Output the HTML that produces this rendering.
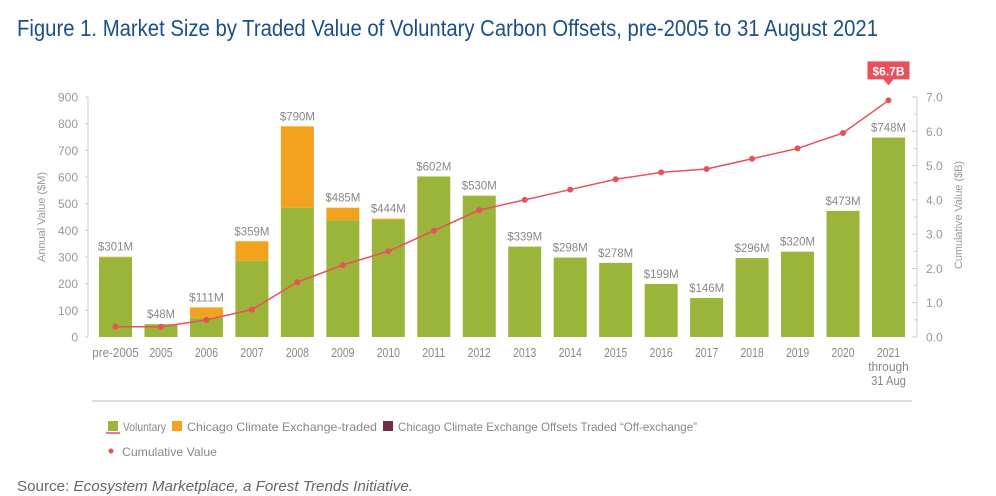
<!DOCTYPE html>
<html><head><meta charset="utf-8"><style>
body{margin:0;background:#fff;width:996px;height:496px;overflow:hidden}
svg{display:block;font-family:"Liberation Sans",sans-serif}
</style></head><body>
<svg id="c" width="996" height="496" viewBox="0 0 996 496">
<text x="17" y="36" font-size="23" fill="#1b4f8c" textLength="861" lengthAdjust="spacingAndGlyphs">Figure 1. Market Size by Traded Value of Voluntary Carbon Offsets, pre-2005 to 31 August 2021</text>
<g id="axes"></g><g id="bars"></g><g id="line"></g>
<line x1="92" y1="401" x2="912" y2="401" stroke="#ddd" stroke-width="2"/>
<g font-size="12" fill="#888">
<g><rect x="108" y="421" width="10" height="10" fill="#9bb43a"/><line x1="106" y1="433" x2="120" y2="433" stroke="#e8505b" stroke-width="1.5"/><text x="123" y="431" textLength="43" lengthAdjust="spacingAndGlyphs">Voluntary</text></g>
<g><rect x="172" y="421" width="10" height="10" fill="#f3a21f"/><text x="187" y="431" textLength="190" lengthAdjust="spacingAndGlyphs">Chicago Climate Exchange-traded</text></g>
<g><rect x="383" y="421" width="10" height="10" fill="#6e2e45"/><text x="398" y="431" textLength="299" lengthAdjust="spacingAndGlyphs">Chicago Climate Exchange Offsets Traded “Off-exchange”</text></g>
<g><circle cx="111" cy="451" r="2.5" fill="#e8505b"/><text x="122" y="456" textLength="95" lengthAdjust="spacingAndGlyphs">Cumulative Value</text></g>
</g>
<text x="17" y="491" font-size="15" fill="#666" textLength="396" lengthAdjust="spacingAndGlyphs">Source: <tspan font-style="italic">Ecosystem Marketplace, a Forest Trends Initiative.</tspan></text>
</svg>
<script>
const categories=["pre-2005","2005","2006","2007","2008","2009","2010","2011","2012","2013","2014","2015","2016","2017","2018","2019","2020","2021"];
const voluntary=[299,48,72,286,485,438,439,602,530,339,298,278,199,146,296,320,473,748];
const ccxTraded=[2,0,39,73,305,47,5,0,0,0,0,0,0,0,0,0,0,0];
const totalLabels=["$301M","$48M","$111M","$359M","$790M","$485M","$444M","$602M","$530M","$339M","$298M","$278M","$199M","$146M","$296M","$320M","$473M","$748M"];
const cumulative=[0.3,0.3,0.5,0.8,1.6,2.1,2.5,3.1,3.7,4.0,4.3,4.6,4.8,4.9,5.2,5.5,5.95,6.9];
const leftTicks=[0,100,200,300,400,500,600,700,800,900];
const rightTicks=[0,1,2,3,4,5,6,7];
const NS="http://www.w3.org/2000/svg";
const y0=337,yTop=97;
const yL=v=>y0-(v/900)*(y0-yTop);
const yR=v=>y0-(v/7)*(y0-yTop);
const xC=i=>115.5+i*45.47;
function mk(p,t,a,txt){const e=document.createElementNS(NS,t);for(const k in a)e.setAttribute(k,a[k]);if(txt!=null)e.textContent=txt;p.appendChild(e);return e;}
const ax=document.getElementById('axes'),bg=document.getElementById('bars'),lg=document.getElementById('line');
let e;
e=mk(ax,'line',{x1:88,y1:yTop,x2:88,y2:y0,stroke:'#ccc'});


e=mk(ax,'line',{x1:917,y1:yTop,x2:917,y2:y0,stroke:'#ccc'});


leftTicks.forEach(v=>{
 e=mk(ax,'text',{x:78,y:yL(v)+4.5,'font-size':12,fill:'#999','text-anchor':'end'},String(v));
 
 
 mk(ax,'line',{x1:85,y1:yL(v),x2:88,y2:yL(v),stroke:'#ccc'});
});
rightTicks.forEach(v=>{
 e=mk(ax,'text',{x:926,y:yR(v)+4.5,'font-size':12,fill:'#999'},v.toFixed(1));
 
 
 mk(ax,'line',{x1:912,y1:yR(v),x2:917,y2:yR(v),stroke:'#ccc'});
 if(v<7)mk(ax,'line',{x1:914,y1:yR(v+0.5),x2:917,y2:yR(v+0.5),stroke:'#ccc'});
});
e=mk(ax,'text',{x:0,y:0,'font-size':11,fill:'#999','text-anchor':'middle',transform:'translate(45,217) rotate(-90)',textLength:90,lengthAdjust:'spacingAndGlyphs'},'Annual Value ($M)');


e=mk(ax,'text',{x:0,y:0,'font-size':11,fill:'#999','text-anchor':'middle',transform:'translate(962,215) rotate(-90)',textLength:108,lengthAdjust:'spacingAndGlyphs'},'Cumulative Value ($B)');


categories.forEach((c,i)=>{
 const x=xC(i)-16.5;
 e=mk(bg,'rect',{x:x,y:yL(voluntary[i]),width:33,height:y0-yL(voluntary[i]),fill:'#9bb43a'});
 
 
 if(ccxTraded[i]>0){
  e=mk(bg,'rect',{x:x,y:yL(voluntary[i]+ccxTraded[i]),width:33,height:yL(voluntary[i])-yL(voluntary[i]+ccxTraded[i]),fill:'#f3a21f'});
  
  
 }
 const tot=voluntary[i]+ccxTraded[i];
 e=mk(bg,'text',{x:xC(i),y:yL(tot)-6,'font-size':12,fill:'#888','text-anchor':'middle',textLength:totalLabels[i].length*7,lengthAdjust:'spacingAndGlyphs'},totalLabels[i]);
 
 
 const lab=c==="2021"?["2021","through","31 Aug"]:[c];
 lab.forEach((t,j)=>{
  e=mk(bg,'text',{x:xC(i),y:357+j*14,'font-size':13,fill:'#888','text-anchor':'middle',textLength:t.length*5.8,lengthAdjust:'spacingAndGlyphs'},t);
  
  
 });
});
e=mk(lg,'polyline',{points:cumulative.map((v,i)=>xC(i)+','+yR(v)).join(' '),fill:'none',stroke:'#e8505b','stroke-width':1.5});


cumulative.forEach((v,i)=>{
 e=mk(lg,'circle',{cx:xC(i),cy:yR(v),r:3,fill:'#e8505b'});
 
 
});
const li=cumulative.length-1,cx=xC(li),cy=yR(cumulative[li]);
e=mk(lg,'path',{d:`M${cx-21},${cy-39} h42 v18 h-16 l-5,6 l-5,-6 h-16 z`,fill:'#e8505b'});


e=mk(lg,'text',{x:cx,y:cy-25,'font-size':12,'font-weight':'bold',fill:'#fff','text-anchor':'middle'},'$6.7B');


</script>
</body></html>
